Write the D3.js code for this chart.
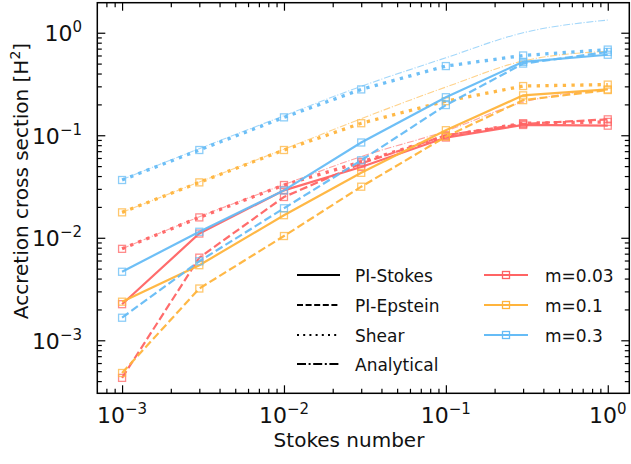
<!DOCTYPE html>
<html><head><meta charset="utf-8">
<script src="https://cdn.jsdelivr.net/npm/d3@7"></script>
<style>body{margin:0;background:#fff} text{font-family:"DejaVu Sans",sans-serif;fill:#111}</style>
</head><body><svg id="c" width="631" height="464"></svg>
<script>
// ---- data ----
const stokes = [1e-3, 3e-3, 1e-2, 3e-2, 0.1, 0.3, 1];
const masses = ["m=0.03", "m=0.1", "m=0.3"];
const methods = ["PI-Stokes", "PI-Epstein", "Shear", "Analytical"];
const xTickExps = [-3, -2, -1, 0];
const yTickExps = [-3, -2, -1, 0];

const redStokes   = [0.00225, 0.0110, 0.029, 0.049, 0.095, 0.126, 0.124];
const redEpstein  = [0.00043, 0.0064, 0.025, 0.053, 0.100, 0.129, 0.143];
const redShear    = [0.0078, 0.0158, 0.0327, 0.055, 0.098, 0.131, 0.135];
const redAnalytic = [0.0078, 0.016, 0.033, 0.062, 0.110, 0.21, 0.28];

const orangeStokes   = [0.00238, 0.0054, 0.0166, 0.043, 0.112, 0.245, 0.28];
const orangeEpstein  = [0.00048, 0.0032, 0.0104, 0.0315, 0.097, 0.22, 0.276];
const orangeShear    = [0.0177, 0.0347, 0.0718, 0.131, 0.215, 0.302, 0.312];
const orangeAnalytic = [0.0177, 0.035, 0.073, 0.145, 0.295, 0.53, 0.66];

const blueStokes   = [0.00466, 0.01145, 0.029, 0.085, 0.235, 0.52, 0.61];
const blueEpstein  = [0.00166, 0.0059, 0.0194, 0.057, 0.197, 0.50, 0.65];
const blueShear    = [0.0366, 0.0718, 0.1495, 0.28, 0.473, 0.60, 0.685];
const blueAnalytic = [0.037, 0.074, 0.155, 0.30, 0.57, 1.0, 1.33];

// ---- build ----
const colors = ["#ff6464", "#ffb43c", "#66bcf6"];
const seriesByMass = [
  [redStokes, redEpstein, redShear, redAnalytic],
  [orangeStokes, orangeEpstein, orangeShear, orangeAnalytic],
  [blueStokes, blueEpstein, blueShear, blueAnalytic]
];
const styles = [
  {w: 2.2, dash: null, op: 0.95},
  {w: 2.2, dash: "8,3.5", op: 0.95},
  {w: 3.3, dash: "3.3,5.4", op: 0.95},
  {w: 1.1, dash: "7,1.8,1.1,1.8", op: 0.6}
];

const svg = d3.select("#c");
const L = 97.3, R = 629.3, T = 2.7, B = 393.3;
const x = d3.scaleLog().domain([Math.pow(10, -3.153), Math.pow(10, 0.133)]).range([L, R]);
const y = d3.scaleLog().domain([Math.pow(10, -3.517), Math.pow(10, 0.293)]).range([B, T]);

function minorTicks(scale) {
  const [a, b] = scale.domain();
  const out = [];
  for (let e = Math.floor(Math.log10(a)); e <= Math.ceil(Math.log10(b)); e++)
    for (let j = 2; j <= 9; j++) { const v = j * Math.pow(10, e); if (v >= a && v <= b) out.push(v); }
  return out;
}
const xMaj = xTickExps.map(e => Math.pow(10, e));
const yMaj = yTickExps.map(e => Math.pow(10, e));

// clip
svg.append("defs").append("clipPath").attr("id", "clip")
  .append("rect").attr("x", L).attr("y", T).attr("width", R - L).attr("height", B - T);
const plot = svg.append("g").attr("clip-path", "url(#clip)");

const line = d3.line().x((d, i) => x(stokes[i])).y(d => y(d));
const curveLine = d3.line().x((d, i) => x(stokes[i])).y(d => y(d)).curve(d3.curveMonotoneX);

// analytical first
seriesByMass.forEach((ser, mi) => {
  const st = styles[3];
  plot.append("path").attr("d", curveLine(ser[3])).attr("fill", "none")
    .attr("stroke", colors[mi]).attr("stroke-width", st.w).attr("stroke-dasharray", st.dash)
    .attr("stroke-opacity", st.op);
});
seriesByMass.forEach((ser, mi) => {
  [0, 1, 2].forEach(k => {
    const st = styles[k];
    plot.append("path").attr("d", line(ser[k])).attr("fill", "none")
      .attr("stroke", colors[mi]).attr("stroke-width", st.w)
      .attr("stroke-dasharray", st.dash).attr("stroke-opacity", st.op);
    plot.selectAll(null).data(ser[k]).enter().append("rect")
      .attr("x", (d, i) => x(stokes[i]) - 3.5).attr("y", d => y(d) - 3.5)
      .attr("width", 7).attr("height", 7).attr("fill", "none")
      .attr("stroke", colors[mi]).attr("stroke-width", 1.3).attr("stroke-opacity", 0.75);
  });
});

// axes ticks (inward)
function addAxis(axisFn, scale, vals, size, tr) {
  svg.append("g").attr("transform", tr)
    .call(axisFn(scale).tickValues(vals).tickSize(size).tickFormat(""))
    .call(g => g.select(".domain").remove())
    .call(g => g.selectAll("line").attr("stroke", "#000").attr("stroke-width", 1.2));
}
addAxis(d3.axisBottom, x, xMaj, -8, `translate(0,${B})`);
addAxis(d3.axisBottom, x, minorTicks(x), -4.5, `translate(0,${B})`);
addAxis(d3.axisTop, x, xMaj, -8, `translate(0,${T})`);
addAxis(d3.axisTop, x, minorTicks(x), -4.5, `translate(0,${T})`);
addAxis(d3.axisLeft, y, yMaj, -8, `translate(${L},0)`);
addAxis(d3.axisLeft, y, minorTicks(y), -4.5, `translate(${L},0)`);
addAxis(d3.axisRight, y, yMaj, -8, `translate(${R},0)`);
addAxis(d3.axisRight, y, minorTicks(y), -4.5, `translate(${R},0)`);

svg.append("rect").attr("x", L).attr("y", T).attr("width", R - L).attr("height", B - T)
  .attr("fill", "none").attr("stroke", "#000").attr("stroke-width", 1.5);

// tick labels
function powLabel(sel, e) {
  sel.append("tspan").text("10");
  sel.append("tspan").attr("dy", -9).attr("font-size", "15px").text(e < 0 ? "\u2212" + (-e) : String(e));
}
xTickExps.forEach(e => {
  const t = svg.append("text").attr("x", x(Math.pow(10, e))).attr("y", 423)
    .attr("text-anchor", "middle").attr("font-size", "22px");
  powLabel(t, e);
});
yTickExps.forEach(e => {
  const t = svg.append("text").attr("x", 82).attr("y", y(Math.pow(10, e)) + 8.5)
    .attr("text-anchor", "end").attr("font-size", "22px");
  powLabel(t, e);
});

// axis labels
svg.append("text").attr("x", 349).attr("y", 447).attr("text-anchor", "middle")
  .attr("font-size", "20px").text("Stokes number");
const yl = svg.append("text").attr("transform", "translate(28,181) rotate(-90)")
  .attr("text-anchor", "middle").attr("font-size", "20px");
yl.append("tspan").text("Accretion cross section [H");
yl.append("tspan").attr("dy", -8).attr("font-size", "14px").text("2");
yl.append("tspan").attr("dy", 8).text("]");

// legend
const legRows = [275, 305, 335, 364];
const legStyles = [
  {w: 2, dash: null}, {w: 1.8, dash: "6,2.6"}, {w: 2, dash: "2,4.2"}, {w: 1.8, dash: "9,2.6,2,2.6"}
];
methods.forEach((m, i) => {
  svg.append("line").attr("x1", 297).attr("x2", 340).attr("y1", legRows[i]).attr("y2", legRows[i])
    .attr("stroke", "#000").attr("stroke-width", legStyles[i].w).attr("stroke-dasharray", legStyles[i].dash);
  svg.append("text").attr("x", 355).attr("y", legRows[i] + 7).attr("font-size", "17px").text(m);
});
masses.forEach((m, i) => {
  svg.append("line").attr("x1", 484).attr("x2", 528).attr("y1", legRows[i]).attr("y2", legRows[i])
    .attr("stroke", colors[i]).attr("stroke-width", 2.2);
  svg.append("rect").attr("x", 506 - 3.5).attr("y", legRows[i] - 3.5).attr("width", 7).attr("height", 7)
    .attr("fill", "none").attr("stroke", colors[i]).attr("stroke-width", 1.3);
  svg.append("text").attr("x", 545).attr("y", legRows[i] + 7).attr("font-size", "17px").text(m);
});
</script></body></html>
